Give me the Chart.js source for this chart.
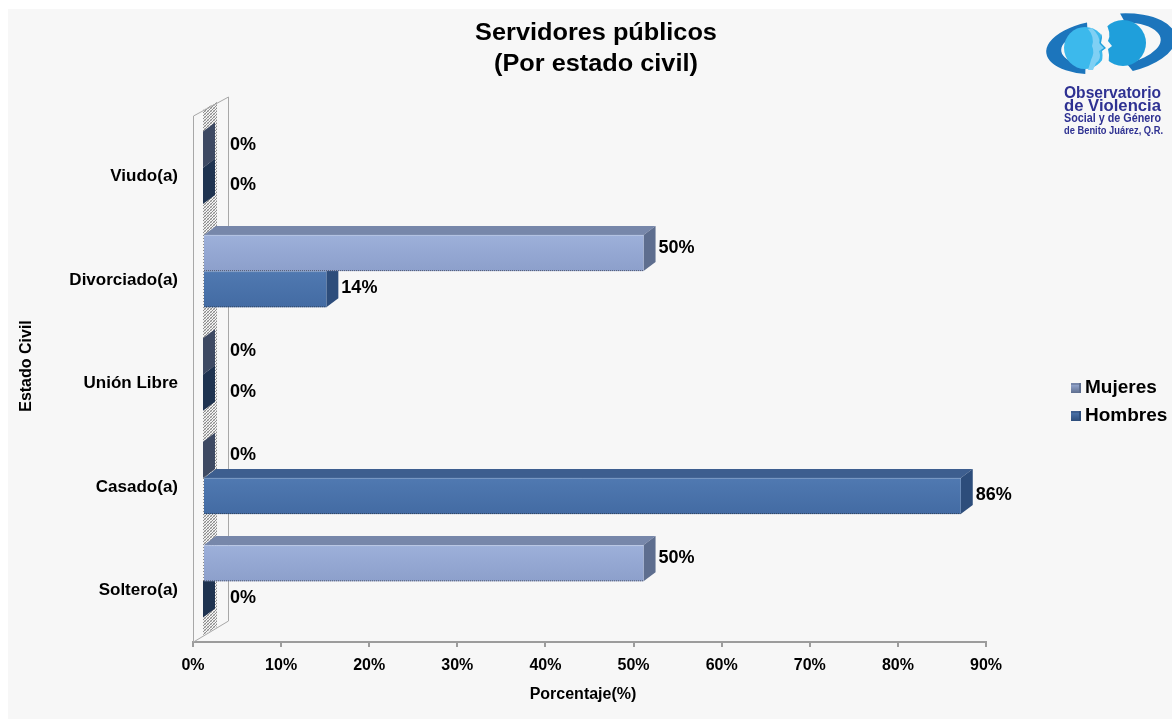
<!DOCTYPE html>
<html lang="es">
<head>
<meta charset="utf-8">
<title>Servidores públicos (Por estado civil)</title>
<script src="https://cdn.jsdelivr.net/npm/chart.js@4.4.1/dist/chart.umd.min.js"></script>
<style>
  html, body { margin: 0; padding: 0; background: #ffffff; }
  #wrap { position: relative; width: 1172px; height: 719px; }
</style>
</head>
<body>
<div id="wrap"><canvas id="grafica" width="1172" height="719"></canvas></div>
<script>
// ---- Datos ----
const categorias = ['Viudo(a)', 'Divorciado(a)', 'Unión Libre', 'Casado(a)', 'Soltero(a)'];
const nombresSeries = ['Mujeres', 'Hombres'];
const mujeres = [0, 50, 0, 0, 50];
const hombres = [0, 14, 0, 86, 0];
const escalaMin = 0;
const escalaMax = 90;
const escalaPaso = 10;
const titulo = ['Servidores públicos', '(Por estado civil)'];
const tituloEjeX = 'Porcentaje(%)';
const tituloEjeY = 'Estado Civil';
const logoLineas = ['Observatorio', 'de Violencia', 'Social y de Género', 'de Benito Juárez, Q.R.'];

// ---- Estilo ----
const FUENTE = '"Liberation Sans", Arial, Helvetica, sans-serif';
const colores = [
  { frenteA: '#9DB0DA', frenteB: '#8C9FCB', arriba: '#7787AA', lado: '#5E6E8F', ladoCero: '#3E4A63' },
  { frenteA: '#5079B1', frenteB: '#436BA3', arriba: '#3D5E8F', lado: '#2D4D7B', ladoCero: '#1F3350' }
];
const FRENTE_DX = 10, FRENTE_DY = -9;   // desplazamiento de la cara frontal
const PROF_DX = 12, PROF_DY = -9;       // profundidad de cada barra
const PARED_DX = 35, PARED_DY = -21;    // profundidad de la pared lateral

function patronPunteado(ctx) {
  const c = document.createElement('canvas');
  c.width = 3; c.height = 3;
  const g = c.getContext('2d');
  g.fillStyle = '#F4F4F4'; g.fillRect(0, 0, 3, 3);
  g.fillStyle = '#8C8C8C'; g.fillRect(0, 0, 1, 1); g.fillRect(2, 1, 1, 1); g.fillRect(1, 2, 1, 1);
  g.fillStyle = '#C4C4C4'; g.fillRect(1, 0, 1, 1); g.fillRect(0, 2, 1, 1);
  return ctx.createPattern(c, 'repeat');
}

// Fondo gris con margen blanco
const fondo = {
  id: 'fondo',
  beforeDraw(chart) {
    const ctx = chart.ctx;
    ctx.save();
    ctx.fillStyle = '#ffffff';
    ctx.fillRect(0, 0, chart.width, chart.height);
    ctx.fillStyle = '#F7F7F7';
    ctx.fillRect(8, 9, chart.width - 8, chart.height - 9);
    ctx.restore();
  }
};

// Pared lateral en 3D junto al eje de categorías
const pared = {
  id: 'pared',
  beforeDatasetsDraw(chart) {
    const ctx = chart.ctx;
    const a = chart.chartArea;
    const x0 = chart.scales.x.getPixelForValue(0);
    const arriba = a.top - 9, abajo = a.bottom;
    ctx.save();
    // banda punteada
    ctx.fillStyle = patronPunteado(ctx);
    ctx.beginPath();
    ctx.moveTo(x0 + 10, arriba - 6);
    ctx.lineTo(x0 + 24, arriba - 14);
    ctx.lineTo(x0 + 24, abajo - 15);
    ctx.lineTo(x0 + 10, abajo - 7);
    ctx.closePath();
    ctx.fill();
    // contorno de la pared
    ctx.strokeStyle = '#A8A8A8';
    ctx.lineWidth = 1;
    ctx.beginPath();
    ctx.moveTo(x0 + 0.5, abajo);
    ctx.lineTo(x0 + 0.5, arriba);
    ctx.lineTo(x0 + PARED_DX + 0.5, arriba + PARED_DY + 2);
    ctx.lineTo(x0 + PARED_DX + 0.5, abajo + PARED_DY);
    ctx.lineTo(x0 + 0.5, abajo);
    ctx.stroke();
    ctx.restore();
  }
};

function caja(ctx, x0, x1, yt, yb, c) {
  const dx = PROF_DX, dy = PROF_DY;
  const lleno = x1 - x0 > 0.5;
  if (lleno) {
    ctx.fillStyle = c.arriba;
    ctx.beginPath();
    ctx.moveTo(x0, yt); ctx.lineTo(x0 + dx, yt + dy);
    ctx.lineTo(x1 + dx, yt + dy); ctx.lineTo(x1, yt);
    ctx.closePath(); ctx.fill();
  }
  ctx.fillStyle = lleno ? c.lado : c.ladoCero;
  ctx.beginPath();
  ctx.moveTo(x1, yt); ctx.lineTo(x1 + dx, yt + dy);
  ctx.lineTo(x1 + dx, yb + dy); ctx.lineTo(x1, yb);
  ctx.closePath(); ctx.fill();
  if (lleno) {
    const g = ctx.createLinearGradient(0, yt, 0, yb);
    g.addColorStop(0, c.frenteA);
    g.addColorStop(1, c.frenteB);
    ctx.fillStyle = g;
    ctx.fillRect(x0, yt, x1 - x0, yb - yt);
    ctx.strokeStyle = 'rgba(255,255,255,0.25)';
    ctx.lineWidth = 1;
    ctx.beginPath(); ctx.moveTo(x0, yt + 0.5); ctx.lineTo(x1, yt + 0.5); ctx.stroke();
    ctx.strokeStyle = 'rgba(40,40,40,0.55)';
    ctx.setLineDash([1, 1]);
    ctx.beginPath(); ctx.moveTo(x0, yb - 0.5); ctx.lineTo(x1, yb - 0.5); ctx.stroke();
    ctx.setLineDash([]);
  }
}

// Barras en 3D y etiquetas de valor
const barras3d = {
  id: 'barras3d',
  afterDatasetsDraw(chart) {
    const ctx = chart.ctx;
    ctx.save();
    for (let i = 0; i < categorias.length; i++) {
      for (const ds of [1, 0]) {
        const el = chart.getDatasetMeta(ds).data[i];
        const x0 = el.base + FRENTE_DX;
        const x1 = el.x + FRENTE_DX;
        const yt = el.y - el.height / 2 + FRENTE_DY;
        const yb = el.y + el.height / 2 + FRENTE_DY;
        caja(ctx, x0, x1, yt, yb, colores[ds]);
      }
    }
    ctx.fillStyle = '#000000';
    ctx.font = 'bold 18px ' + FUENTE;
    ctx.textAlign = 'left';
    ctx.textBaseline = 'middle';
    const desY = [-14, -10];
    const pared = chart.scales.x.getPixelForValue(0) + PARED_DX + 2;
    for (let ds = 0; ds < 2; ds++) {
      const meta = chart.getDatasetMeta(ds);
      const valores = chart.data.datasets[ds].data;
      meta.data.forEach((el, i) => {
        const x = Math.max(el.x + FRENTE_DX + PROF_DX + 3, pared);
        ctx.fillText(valores[i] + '%', x, el.y + desY[ds]);
      });
    }
    ctx.restore();
  }
};

function dibujarLogo(ctx) {
  ctx.save();
  // arcos exteriores
  ctx.fillStyle = '#1C75BC';
  ctx.beginPath();
  ctx.ellipse(1104, 47, 58, 27, -0.1, Math.PI * 0.62, Math.PI * 1.42);
  ctx.ellipse(1110, 46, 49, 20, -0.1, Math.PI * 1.36, Math.PI * 0.68, true);
  ctx.closePath(); ctx.fill();
  ctx.beginPath();
  ctx.ellipse(1114, 44, 62, 30, -0.12, Math.PI * 1.55, Math.PI * 0.42);
  ctx.ellipse(1108, 45, 53, 22, -0.12, Math.PI * 0.40, Math.PI * 1.62, true);
  ctx.closePath(); ctx.fill();
  // cabezas
  ctx.fillStyle = '#3CB9EC';
  ctx.beginPath(); ctx.arc(1085, 48, 21, 0, Math.PI * 2); ctx.fill();
  ctx.fillStyle = '#1F9FDB';
  ctx.beginPath(); ctx.arc(1123, 43, 23, 0, Math.PI * 2); ctx.fill();
  // rostros de perfil
  ctx.fillStyle = '#7FD0F4';
  ctx.beginPath();
  ctx.moveTo(1092, 28); ctx.quadraticCurveTo(1101, 37, 1099, 43);
  ctx.lineTo(1104, 48); ctx.lineTo(1099, 51);
  ctx.quadraticCurveTo(1102, 59, 1096, 63); ctx.lineTo(1093, 70);
  ctx.lineTo(1088, 70); ctx.lineTo(1091, 60);
  ctx.quadraticCurveTo(1095, 52, 1092, 46);
  ctx.quadraticCurveTo(1095, 37, 1088, 29);
  ctx.closePath(); ctx.fill();
  ctx.fillStyle = '#F7F7F7';
  ctx.beginPath();
  ctx.moveTo(1105, 22); ctx.quadraticCurveTo(1112, 33, 1108, 41);
  ctx.lineTo(1112, 46); ctx.lineTo(1108, 49);
  ctx.quadraticCurveTo(1111, 60, 1105, 71); ctx.lineTo(1099, 71);
  ctx.quadraticCurveTo(1104, 59, 1102, 51);
  ctx.lineTo(1106, 48); ctx.lineTo(1101, 43);
  ctx.quadraticCurveTo(1104, 33, 1098, 24);
  ctx.closePath(); ctx.fill();
  // texto
  ctx.fillStyle = '#2E3192';
  ctx.textAlign = 'left';
  ctx.textBaseline = 'middle';
  ctx.font = 'bold 17px ' + FUENTE;
  ctx.fillText(logoLineas[0], 1064, 93, 97);
  ctx.fillText(logoLineas[1], 1064, 106, 97);
  ctx.font = 'bold 12px ' + FUENTE;
  ctx.fillText(logoLineas[2], 1064, 119, 97);
  ctx.font = 'bold 10px ' + FUENTE;
  ctx.fillText(logoLineas[3], 1064, 131, 99);
  ctx.restore();
}

// Títulos, leyenda y logotipo
const textos = {
  id: 'textos',
  afterDraw(chart) {
    const ctx = chart.ctx;
    ctx.save();
    ctx.fillStyle = '#000000';
    ctx.textAlign = 'center';
    ctx.textBaseline = 'middle';
    ctx.font = 'bold 23px ' + FUENTE;
    [34, 65].forEach((y, k) => {
      ctx.save();
      ctx.translate(596, y);
      ctx.scale(1.1, 1);
      ctx.fillText(titulo[k], 0, 0);
      ctx.restore();
    });
    ctx.font = 'bold 16px ' + FUENTE;
    ctx.fillText(tituloEjeX, 583, 695);
    ctx.save();
    ctx.translate(27, 366);
    ctx.rotate(-Math.PI / 2);
    ctx.fillText(tituloEjeY, 0, 0);
    ctx.restore();

    // leyenda
    const filas = [388, 416];
    ctx.textAlign = 'left';
    ctx.font = 'bold 19px ' + FUENTE;
    nombresSeries.forEach((n, k) => {
      const y = filas[k];
      const c = colores[k];
      const g = ctx.createLinearGradient(0, y - 5, 0, y + 5);
      g.addColorStop(0, c.frenteA);
      g.addColorStop(1, c.lado);
      ctx.fillStyle = g;
      ctx.fillRect(1071, y - 5, 10, 10);
      ctx.fillStyle = c.arriba;
      ctx.fillRect(1071, y - 5, 10, 2);
      ctx.fillStyle = c.lado;
      ctx.fillRect(1079, y - 5, 2, 10);
      ctx.fillStyle = '#000000';
      ctx.fillText(n, 1085, y);
    });
    ctx.restore();
    dibujarLogo(ctx);
  }
};

new Chart(document.getElementById('grafica'), {
  type: 'bar',
  data: {
    labels: categorias,
    datasets: [
      { label: nombresSeries[0], data: mujeres, backgroundColor: 'rgba(0,0,0,0)', borderWidth: 0 },
      { label: nombresSeries[1], data: hombres, backgroundColor: 'rgba(0,0,0,0)', borderWidth: 0 }
    ]
  },
  options: {
    responsive: false,
    animation: false,
    devicePixelRatio: 1,
    indexAxis: 'y',
    layout: { padding: { top: 125, right: 186, bottom: 0, left: 0 } },
    datasets: { bar: { categoryPercentage: 0.7, barPercentage: 1.0 } },
    plugins: {
      legend: { display: false },
      title: { display: false },
      tooltip: { enabled: false }
    },
    scales: {
      x: {
        min: escalaMin,
        max: escalaMax,
        ticks: {
          stepSize: escalaPaso,
          callback: v => v + '%',
          color: '#000000',
          font: { family: FUENTE, size: 16, weight: 'bold' },
          padding: 9,
          maxRotation: 0
        },
        grid: { drawOnChartArea: false, drawTicks: true, tickLength: 5, color: '#9C9C9C', lineWidth: 2 },
        border: { display: true, color: '#9C9C9C', width: 2 },
        afterFit: s => { s.height = 77; }
      },
      y: {
        ticks: {
          color: '#000000',
          font: { family: FUENTE, size: 17, weight: 'bold' },
          padding: 15
        },
        grid: { display: false, drawTicks: false },
        border: { display: false },
        afterFit: s => { s.width = 193; }
      }
    }
  },
  plugins: [fondo, pared, barras3d, textos]
});
</script>
</body>
</html>
